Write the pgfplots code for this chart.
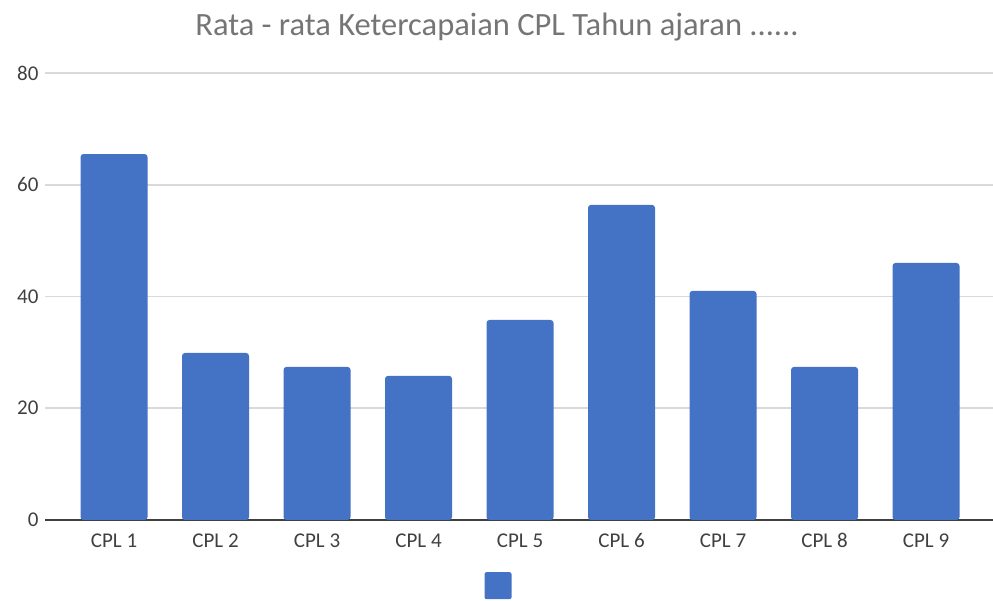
\documentclass[border=0pt]{standalone}
\usepackage{pgfplots}
\pgfplotsset{compat=1.18}
\usepackage{fontspec}
\setmainfont{Carlito}
\definecolor{barblue}{HTML}{4472C4}
\definecolor{gridgray}{HTML}{D9D9D9}
\definecolor{axisgray}{HTML}{404040}
\definecolor{titlegray}{HTML}{757575}
\begin{document}
\begin{tikzpicture}[x=1pt,y=1pt]
\useasboundingbox (0,0) rectangle (993,601);
\node[text=titlegray, font=\fontsize{32.5}{32.5}\selectfont] at (497,574) {Rata - rata Ketercapaian CPL Tahun ajaran ......};
\begin{axis}[
  at={(45pt,81pt)}, anchor=south west,
  scale only axis, width=948pt, height=447pt,
  xmin=0.32, xmax=9.66, ymin=0, ymax=80,
  ytick={0,20,40,60,80},
  xtick={1,2,3,4,5,6,7,8,9},
  xticklabels={CPL 1,CPL 2,CPL 3,CPL 4,CPL 5,CPL 6,CPL 7,CPL 8,CPL 9},
  axis lines*=left,
  axis line style={-},
  y axis line style={draw=none},
  x axis line style={axisgray, line width=1.6pt},
  major tick length=0pt,
  ymajorgrids,
  grid style={gridgray, line width=1.6pt},
  /pgf/number format/assume math mode=true,
  tick label style={font=\fontsize{21}{21}\selectfont, text=axisgray},
  xticklabel style={anchor=north, text height=14pt, text depth=0pt, yshift=-10pt},
  yticklabel style={xshift=-3pt},
  ybar, bar width=67pt, bar shift=0pt,
  legend style={at={(axis description cs:0.48,0)}, anchor=north, yshift=-50pt, draw=none, fill=none},
  legend image code/.code={\fill[barblue, rounded corners=2pt] (0pt,-13pt) rectangle (27pt,14pt);},
]
\addplot[fill=barblue, draw=none, rounded corners=3pt] coordinates {
  (1,65.5) (2,29.9) (3,27.4) (4,25.8) (5,35.8) (6,56.4) (7,41.0) (8,27.4) (9,46.0)
};
\addlegendentry{}
\end{axis}
\end{tikzpicture}
\end{document}
